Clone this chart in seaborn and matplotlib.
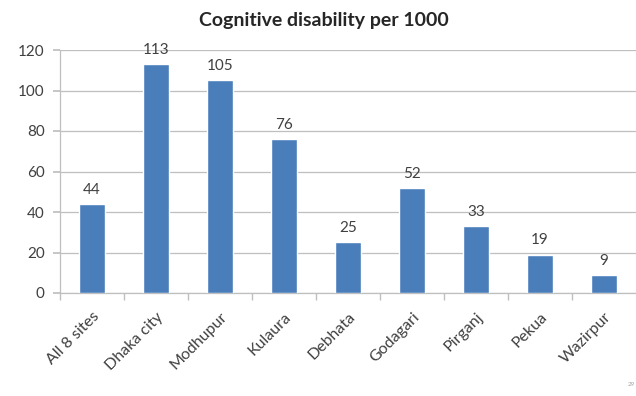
import matplotlib
matplotlib.use("Agg")
import matplotlib.pyplot as plt
import seaborn as sns
import pandas as pd

sites = ["All 8 sites", "Dhaka city", "Modhupur", "Kulaura", "Debhata",
         "Godagari", "Pirganj", "Pekua", "Wazirpur"]
rates = [44, 113, 105, 76, 25, 52, 33, 19, 9]
y_ticks = [0, 20, 40, 60, 80, 100, 120]

df = pd.DataFrame({"site": sites, "rate": rates})

sns.set_theme(style="white")
plt.rcParams["font.family"] = ["Lato", "DejaVu Sans"]

fig = plt.figure(figsize=(6.36, 3.96), dpi=100)
ax = fig.add_axes([60 / 636, (396 - 293) / 396, (636 - 60) / 636, (293 - 50) / 396])

sns.barplot(data=df, x="site", y="rate", color="#4A7EBB", saturation=1,
            width=0.41, ax=ax, zorder=3)

ax.set_ylim(0, 120)
ax.set_xlim(-0.5, len(sites) - 0.5)
ax.set_yticks(y_ticks)
ax.set_yticklabels([str(t) for t in y_ticks], fontsize=11, color="#404040")
ax.yaxis.grid(True, color="#BFBFBF", linewidth=0.9, zorder=0)
ax.tick_params(axis="y", length=5, color="#BFBFBF", pad=6, left=True)

# category boundary ticks on the x axis
ax.set_xticks(range(len(sites)))
ax.set_xticklabels(sites, rotation=45, ha="right", rotation_mode="anchor",
                   fontsize=11.5, color="#404040")
ax.tick_params(axis="x", length=0, pad=12)
ax.set_xticks([i - 0.5 for i in range(len(sites))], minor=True)
ax.tick_params(axis="x", which="minor", length=5, color="#BFBFBF", bottom=True)

for side in ["top", "right"]:
    ax.spines[side].set_visible(False)
ax.spines["left"].set_color("#BFBFBF")
ax.spines["bottom"].set_color("#BFBFBF")
ax.spines["left"].set_linewidth(0.9)
ax.spines["bottom"].set_linewidth(0.9)
ax.set_xlabel("")
ax.set_ylabel("")

for i, v in enumerate(rates):
    ax.text(i, v + 3.5, str(v), ha="center", va="bottom", fontsize=11,
            color="#404040", zorder=4)

fig.text(0.51, 0.947, "Cognitive disability per 1000", ha="center", va="center",
         fontsize=14, fontweight="bold", color="#262626")
fig.text(0.999, 0.03, "29", ha="right", va="center", fontsize=4.5, color="#A0A0A0")

fig.savefig("out.png", dpi=100)
